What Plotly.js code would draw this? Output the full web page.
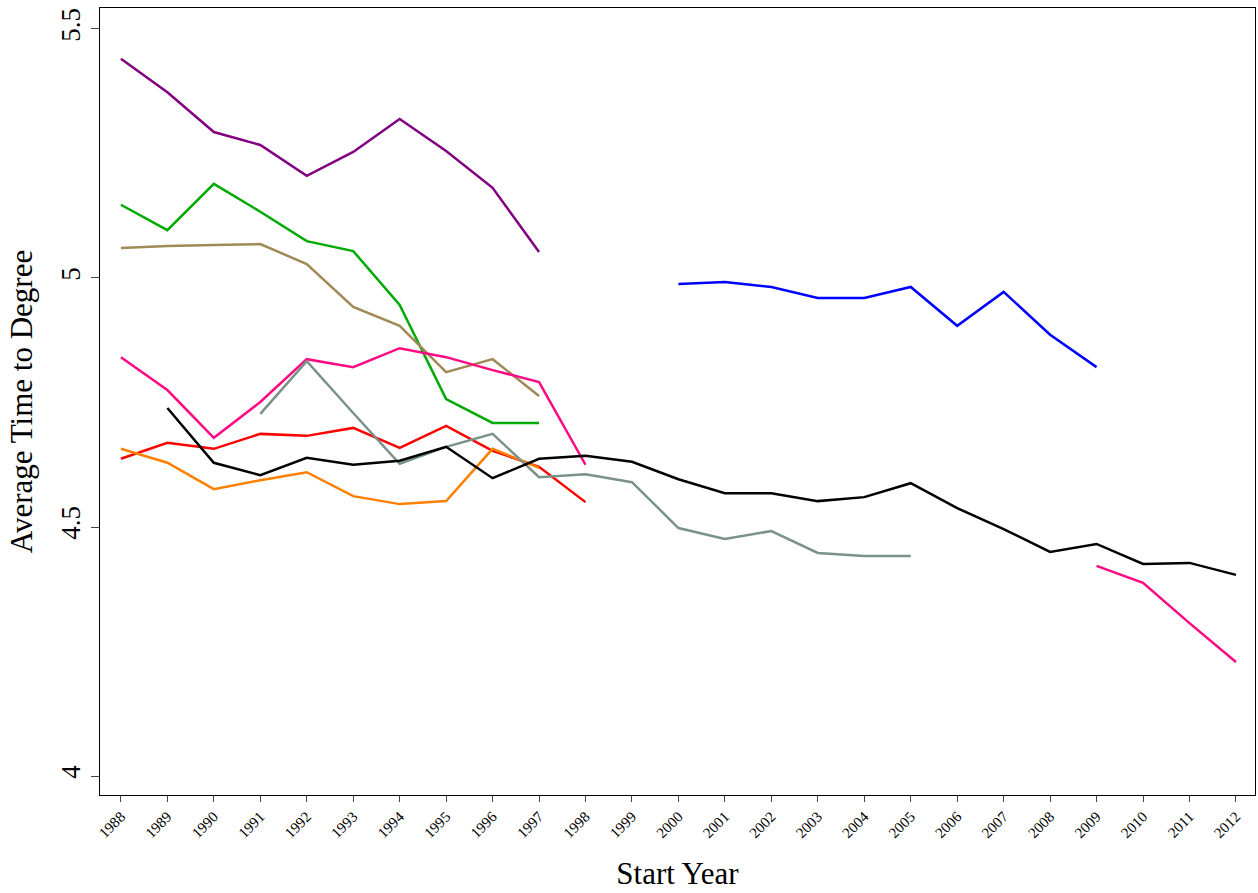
<!DOCTYPE html>
<html>
<head>
<script src="https://cdn.plot.ly/plotly-3.0.1.min.js"></script>
<style>body{margin:0}#chart{width:1258px;height:893px}</style>
</head>
<body>
<div id="chart"></div>
<script>
const years = [];
for (let y = 1988; y <= 2012; y++) years.push(y);

const purple = [5.440, 5.373, 5.293, 5.267, 5.205, 5.253, 5.319, 5.255, 5.181, 5.052];
const green = [5.147, 5.096, 5.189, 5.133, 5.074, 5.054, 4.946, 4.757, 4.709, 4.709];
const tan = [5.060, 5.064, 5.066, 5.068, 5.028, 4.942, 4.904, 4.811, 4.837, 4.763];
const pinkEarly = [4.841, 4.775, 4.679, 4.751, 4.837, 4.821, 4.859, 4.841, 4.815, 4.791, 4.625];
const red = [4.637, 4.669, 4.657, 4.687, 4.683, 4.699, 4.659, 4.703, 4.653, 4.621, 4.550];
const orange = [4.657, 4.629, 4.576, 4.594, 4.610, 4.562, 4.546, 4.552, 4.657, 4.619];
const black = [4.739, 4.629, 4.604, 4.639, 4.625, 4.633, 4.661, 4.598, 4.637, 4.643, 4.631, 4.596,
  4.568, 4.568, 4.552, 4.560, 4.588, 4.538, 4.496, 4.450, 4.466, 4.426, 4.428, 4.404];
const gray = [4.727, 4.833, 4.729, 4.627, 4.661, 4.687, 4.600, 4.606, 4.590, 4.498, 4.476, 4.492,
  4.448, 4.442, 4.442];
const blue = [4.988, 4.992, 4.982, 4.960, 4.960, 4.982, 4.904, 4.972, 4.886, 4.821];
const pinkLate = [4.422, 4.388, 4.307, 4.229];

function line(startYear, vals, color) {
  const i = years.indexOf(startYear);
  return {
    x: years.slice(i, i + vals.length),
    y: vals,
    type: "scatter",
    mode: "lines",
    line: { color: color, width: 2.5 },
    showlegend: false,
  };
}

const traces = [
  line(1988, purple, "#800080"),
  line(1988, green, "#00aa00"),
  line(1988, tan, "#a08a55"),
  line(1988, pinkEarly, "#ff0a82"),
  line(1988, red, "#ff0000"),
  line(1988, orange, "#ff8000"),
  line(1991, gray, "#7a9288"),
  line(1989, black, "#000000"),
  line(2000, blue, "#0000ff"),
  line(2009, pinkLate, "#ff0a82"),
];

const font = "Liberation Serif, Times New Roman, serif";
const layout = {
  width: 1258,
  height: 893,
  margin: { l: 100, r: 3, t: 8, b: 98 },
  paper_bgcolor: "white",
  plot_bgcolor: "white",
  font: { family: font, color: "black" },
  xaxis: {
    range: [1987.55, 2012.41],
    tickvals: years,
    ticktext: years.map(String),
    tickangle: -45,
    tickfont: { size: 15 },
    ticks: "outside",
    ticklen: 6,
    showgrid: false,
    zeroline: false,
    showline: true,
    linecolor: "black",
    mirror: true,
    title: { text: "Start Year", font: { size: 31 }, standoff: 22 },
  },
  yaxis: {
    range: [3.962, 5.542],
    tickvals: [4, 4.5, 5, 5.5],
    ticktext: ["4", "4.5", "5", "5.5"],
    tickangle: -90,
    tickfont: { size: 27 },
    ticks: "outside",
    ticklen: 8,
    showgrid: false,
    zeroline: false,
    showline: true,
    linecolor: "black",
    mirror: true,
    title: { text: "Average Time to Degree", font: { size: 31 }, standoff: 14 },
  },
};

Plotly.newPlot("chart", traces, layout, { displayModeBar: false });
</script>
</body>
</html>
